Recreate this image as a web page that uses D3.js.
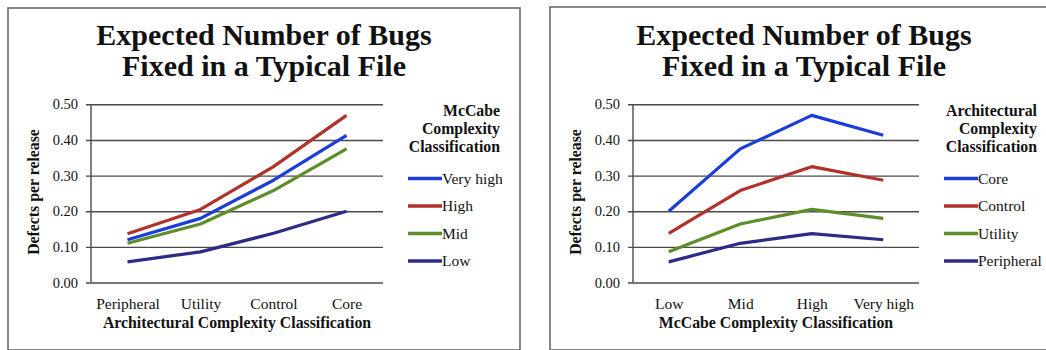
<!DOCTYPE html>
<html>
<head>
<meta charset="utf-8">
<script src="https://cdn.jsdelivr.net/npm/d3@7"></script>
<style>
  html, body { margin: 0; padding: 0; background: #fff; }
  svg { display: block; }
  text { font-family: "Liberation Serif", "DejaVu Serif", serif; fill: #111; }
</style>
</head>
<body>
<svg id="chart" width="1046" height="350"></svg>
<script>
// Defects per release, by McCabe complexity class, across architectural classes
const archClasses = ["Peripheral", "Utility", "Control", "Core"];
const mccabeClasses = ["Low", "Mid", "High", "Very high"];
const lowMcCabe      = [0.058, 0.086, 0.138, 0.200];
const midMcCabe      = [0.110, 0.164, 0.258, 0.375];
const highMcCabe     = [0.137, 0.205, 0.325, 0.469];
const veryHighMcCabe = [0.120, 0.180, 0.287, 0.413];
const yTicks = [0.0, 0.1, 0.2, 0.3, 0.4, 0.5];
const titleLines = ["Expected Number of Bugs", "Fixed in a Typical File"];

const colors = { blue: "#1c3ed8", red: "#b0322a", green: "#5e8d2c", navy: "#2e2b86" };

// Left panel: one line per McCabe class, x = architectural class
const leftSeries = [
  { name: "Very high", values: veryHighMcCabe, color: colors.blue },
  { name: "High",      values: highMcCabe,     color: colors.red },
  { name: "Mid",       values: midMcCabe,      color: colors.green },
  { name: "Low",       values: lowMcCabe,      color: colors.navy }
];

// Right panel: same table transposed, one line per architectural class
const byMcCabe = [lowMcCabe, midMcCabe, highMcCabe, veryHighMcCabe];
const archColumn = i => byMcCabe.map(row => row[i]);
const rightSeries = [
  { name: "Core",       values: archColumn(3), color: colors.blue },
  { name: "Control",    values: archColumn(2), color: colors.red },
  { name: "Utility",    values: archColumn(1), color: colors.green },
  { name: "Peripheral", values: archColumn(0), color: colors.navy }
];

const svg = d3.select("#chart");
const SERIF = "Liberation Serif";

function drawPanel(opt) {
  const g = svg.append("g");

  // panel frame
  g.append("rect")
    .attr("x", opt.frame[0]).attr("y", opt.frame[1])
    .attr("width", opt.frame[2]).attr("height", opt.frame[3])
    .attr("fill", "#fff").attr("stroke", "#6a6a6a").attr("stroke-width", 1.6);

  // title
  titleLines.forEach((t, i) => {
    g.append("text")
      .attr("x", opt.titleX).attr("y", 45 + i * 31)
      .attr("text-anchor", "middle")
      .attr("font-family", SERIF)
      .attr("font-size", 30).attr("font-weight", "bold")
      .text(t);
  });

  const x = d3.scalePoint().domain(opt.categories)
    .range([opt.plot[0], opt.plot[1]]).padding(0.5);
  const y = d3.scaleLinear().domain([0, 0.5]).range([282.5, 104.3]);

  // gridlines with ticks and labels
  const yAxis = d3.axisLeft(y).tickValues(yTicks)
    .tickFormat(d3.format(".2f"))
    .tickSize(-(opt.plot[1] - opt.plot[0]) - 5).tickPadding(0);
  const ya = g.append("g").attr("transform", `translate(${opt.plot[0] - 5},0)`).call(yAxis);
  ya.select(".domain").remove();
  ya.selectAll(".tick line").attr("stroke", "#4a4a4a").attr("stroke-width", 1.4);
  ya.selectAll(".tick text")
    .attr("x", -8)
    .attr("font-size", 14.5).attr("font-family", SERIF).attr("fill", "#111");

  // vertical axis line
  g.append("line")
    .attr("x1", opt.plot[0]).attr("x2", opt.plot[0])
    .attr("y1", y(0.5)).attr("y2", y(0))
    .attr("stroke", "#4a4a4a").attr("stroke-width", 1.4);

  // category labels
  const xAxis = d3.axisBottom(x).tickSize(0).tickPadding(15);
  const xa = g.append("g").attr("transform", `translate(0,${y(0)})`).call(xAxis);
  xa.select(".domain").remove();
  xa.selectAll(".tick text")
    .attr("font-size", 15.5).attr("font-family", SERIF).attr("fill", "#111");

  // axis titles
  g.append("text")
    .attr("x", (opt.plot[0] + opt.plot[1]) / 2).attr("y", 328)
    .attr("text-anchor", "middle").attr("font-family", SERIF)
    .attr("font-size", 15.8).attr("font-weight", "bold")
    .text(opt.xTitle);
  g.append("text")
    .attr("transform", `translate(${opt.yTitleX},192) rotate(-90)`)
    .attr("text-anchor", "middle").attr("font-family", SERIF)
    .attr("font-size", 15.8).attr("font-weight", "bold")
    .text("Defects per release");

  // series lines
  const line = d3.line().x((d, i) => x(opt.categories[i])).y(d => y(d));
  g.selectAll("path.series").data(opt.series).enter().append("path")
    .attr("class", "series")
    .attr("d", d => line(d.values))
    .attr("fill", "none").attr("stroke", d => d.color)
    .attr("stroke-width", 3.2).attr("stroke-linejoin", "round");

  // legend
  opt.legendTitle.forEach((t, i) => {
    g.append("text")
      .attr("x", opt.legendRight).attr("y", 116 + i * 18)
      .attr("text-anchor", "end").attr("font-family", SERIF)
      .attr("font-size", 15.8).attr("font-weight", "bold")
      .text(t);
  });
  const items = g.selectAll("g.legend-item").data(opt.series).enter().append("g")
    .attr("class", "legend-item")
    .attr("transform", (d, i) => `translate(${opt.legendX},${178.5 + i * 27.5})`);
  items.append("line")
    .attr("x1", 0).attr("x2", 34).attr("y1", 0).attr("y2", 0)
    .attr("stroke", d => d.color).attr("stroke-width", 3.6);
  items.append("text")
    .attr("x", 34).attr("y", 5).attr("font-family", SERIF).attr("font-size", 15.5)
    .text(d => d.name);
}

drawPanel({
  frame: [8, 8, 512, 342],
  titleX: 264,
  plot: [91, 383],
  categories: archClasses,
  series: leftSeries,
  xTitle: "Architectural Complexity Classification",
  yTitleX: 39,
  legendTitle: ["McCabe", "Complexity", "Classification"],
  legendRight: 500,
  legendX: 408
});

drawPanel({
  frame: [550, 7, 520, 343],
  titleX: 804,
  plot: [633, 919],
  categories: mccabeClasses,
  series: rightSeries,
  xTitle: "McCabe Complexity Classification",
  yTitleX: 581,
  legendTitle: ["Architectural", "Complexity", "Classification"],
  legendRight: 1037,
  legendX: 944
});
</script>
</body>
</html>
